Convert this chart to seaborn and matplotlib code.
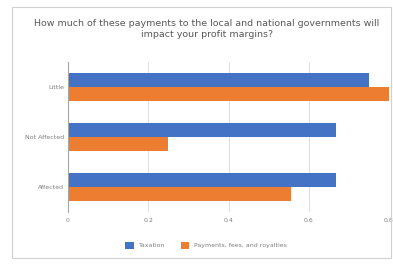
import matplotlib
matplotlib.use("Agg")
import matplotlib.pyplot as plt
import seaborn as sns
import pandas as pd
from matplotlib.patches import Rectangle

categories = ["Little", "Not Affected", "Affected"]
series_names = ["Taxation", "Payments, fees, and royalties"]
taxation = [0.75, 0.667, 0.667]
payments = [0.80, 0.25, 0.556]
xticks = [0, 0.2, 0.4, 0.6, 0.8]
title = "How much of these payments to the local and national governments will\nimpact your profit margins?"

df = pd.DataFrame({
    "category": categories * 2,
    "series": [series_names[0]] * 3 + [series_names[1]] * 3,
    "value": taxation + payments,
})

sns.set_theme(style="white")
plt.rcParams["font.family"] = ["DejaVu Sans"]

fig = plt.figure(figsize=(3.93, 2.65), dpi=100)
ax = fig.add_axes([68/393, 1 - 212/265, (389-68)/393, (212-62)/265])

sns.barplot(data=df, x="value", y="category", hue="series", order=categories,
            hue_order=series_names, palette=["#4472C4", "#ED7D31"],
            width=0.56, ax=ax, legend=True, saturation=1, linewidth=0)

ax.set_xlim(0, 0.8)
ax.set_xticks(xticks)
ax.set_xticklabels(["0", "0.2", "0.4", "0.6", "0.8"], fontsize=4.5, color="#7F7F7F")
ax.tick_params(axis="y", labelsize=4.5, colors="#7F7F7F", length=0, pad=3)
ax.tick_params(axis="x", length=0, pad=4)
ax.set_xlabel("")
ax.set_ylabel("")
ax.grid(axis="x", color="#D9D9D9", linewidth=0.6)
ax.set_axisbelow(True)
for s in ["top", "right", "bottom"]:
    ax.spines[s].set_visible(False)
ax.spines["left"].set_color("#A6A6A6")
ax.spines["left"].set_linewidth(0.8)

leg = ax.legend(loc="upper center", bbox_to_anchor=(0.43, -0.16), ncol=2,
                frameon=False, fontsize=4.5, handlelength=1.4, handleheight=1.4,
                columnspacing=2.5, handletextpad=0.8)
for t in leg.get_texts():
    t.set_color("#7F7F7F")

fig.text(207/393, 1 - 29/265, title, ha="center", va="center", fontsize=6.8,
         color="#595959", linespacing=1.4)

fig.patches.append(Rectangle((12/393, 7/265), (391-12)/393, (258-7)/265,
                             transform=fig.transFigure, fill=False,
                             edgecolor="#D0D0D0", linewidth=0.8))

fig.savefig("out.png", dpi=100)
